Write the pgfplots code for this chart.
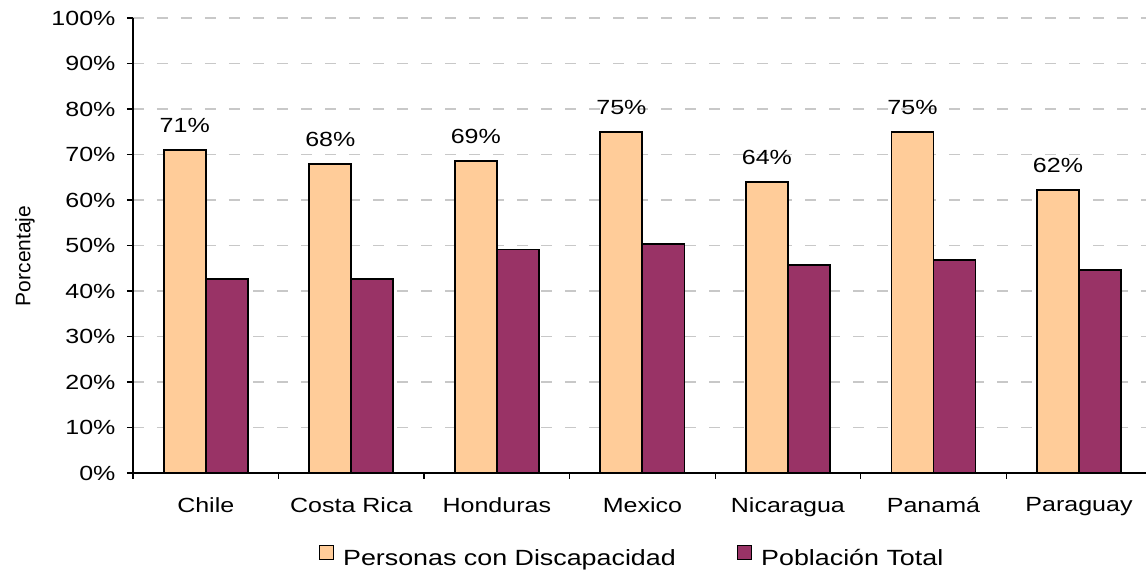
\documentclass[border=0pt]{standalone}
\usepackage{pgfplots}
\pgfplotsset{compat=1.18}
\usepackage{fontspec}
\setmainfont[FakeStretch=1.22]{Liberation Sans}
\newfontfamily\plainsans{Liberation Sans}
\definecolor{peach}{HTML}{FFCC99}
\definecolor{maroon}{HTML}{993366}
\definecolor{gridgray}{HTML}{C8C8C8}
\begin{document}
\begin{tikzpicture}[font=\fontsize{20.5}{24}\selectfont]
\begin{axis}[
  scale only axis,
  width=1013pt, height=455pt,
  ybar,
  xmin=-0.5, xmax=6.46,
  ymin=0, ymax=100,
  axis x line*=bottom, axis y line*=left,
  axis line style={line width=1.2pt, black},
  ytick={0,10,...,100},
  yticklabel={\pgfmathprintnumber{\tick}\%},
  /pgf/number format/assume math mode=true,
  xtick={0,...,6},
  xticklabels={Chile,Costa Rica,Honduras,Mexico,Nicaragua,Panamá,Paraguay},
  minor xtick={-0.5,0.5,...,5.5},
  every major x tick/.style={draw=none},
  tick align=outside,
  major tick length=6pt, minor tick length=6pt,
  tick style={line width=1.2pt, black},
  ymajorgrids=true,
  grid style={gridgray, line width=1.3pt, dash pattern=on 11pt off 13pt},
  yticklabel style={xshift=-8pt},
  xticklabel style={yshift=-15pt},
  ylabel={Porcentaje},
  every axis y label/.style={at={(axis description cs:-0.1066,0.477)}, rotate=90, anchor=center, font=\plainsans\fontsize{21}{24}\selectfont},
  legend columns=2,
  legend style={draw=none, at={(0.4926,-0.1846)}, anchor=center,
    font=\fontsize{22}{26}\selectfont,
    /tikz/every even column/.append style={column sep=59pt},
    /tikz/every odd column/.append style={column sep=7pt}},
  legend image code/.code={\draw[#1, line width=1.4pt] (0pt,-1.5pt) rectangle (14pt,12.5pt);},
  clip=false,
]
\addplot[fill=peach, draw=black, line width=1.8pt, bar width=0.289, bar shift=-0.1445,
  nodes near coords={\pgfmathprintnumber[fixed,precision=0]{\pgfplotspointmeta}\%},
  every node near coord/.style={anchor=south, inner sep=0pt, yshift=16pt, xshift=-21pt, black}]
  coordinates {(0,71) (1,67.9) (2,68.6) (3,75) (4,64) (5,75) (6,62.2)};
\addlegendentry{Personas con Discapacidad}
\addplot[fill=maroon, draw=black, line width=1.8pt, bar width=0.289, bar shift=0.1445]
  coordinates {(0,42.7) (1,42.7) (2,49.1) (3,50.4) (4,45.7) (5,46.9) (6,44.7)};
\addlegendentry{Población Total}
\end{axis}
\pgfresetboundingbox
\path (current axis.south west) ++(-133pt,-97pt) rectangle ++(1146pt,570pt);
\end{tikzpicture}
\end{document}
